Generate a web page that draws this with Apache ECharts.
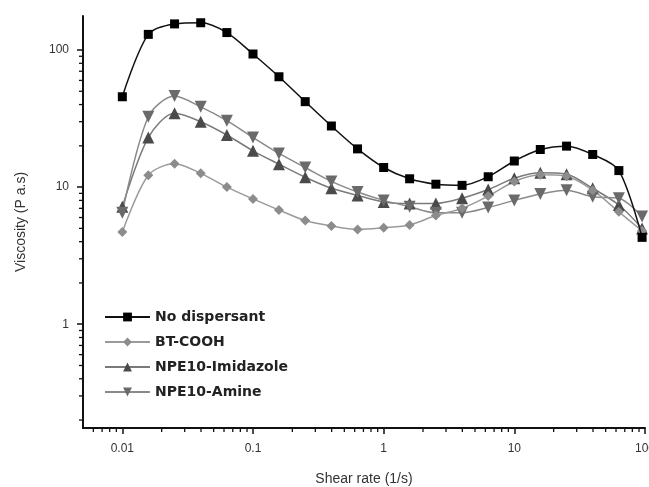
<!DOCTYPE html>
<html><head><meta charset="utf-8">
<script src="https://cdn.jsdelivr.net/npm/echarts@6/dist/echarts.min.js"></script>
<style>html,body{margin:0;padding:0;background:#fff}#c{width:649px;height:487px}</style>
</head><body><div id="c"></div>
<script>
// ---- data ----
const shearRate = [0.01, 0.0158, 0.0251, 0.0398, 0.0631, 0.1, 0.158, 0.251, 0.398, 0.631, 1, 1.58, 2.51, 3.98, 6.31, 10, 15.8, 25.1, 39.8, 63.1, 95];
const noDispersant = [45.6, 130, 155, 158, 134, 93.5, 63.8, 42, 27.9, 19, 13.9, 11.5, 10.5, 10.3, 11.9, 15.5, 18.8, 19.9, 17.3, 13.2, 4.3];
const btCooh = [4.7, 12.2, 14.8, 12.6, 10.0, 8.2, 6.8, 5.7, 5.2, 4.9, 5.05, 5.3, 6.2, 7.0, 8.6, 11.0, 12.3, 12.0, 9.5, 6.6, 4.8];
const npeImidazole = [7.2, 23, 34.5, 30, 24, 18.4, 14.7, 11.8, 9.8, 8.7, 7.8, 7.6, 7.6, 8.3, 9.6, 11.6, 12.7, 12.4, 9.8, 7.4, 5.0];
const npeAmine = [6.5, 32.6, 46.2, 38.5, 30.5, 23, 17.6, 13.9, 11, 9.2, 8.0, 7.2, 6.5, 6.5, 7.1, 8.0, 8.9, 9.5, 8.5, 8.3, 6.1];
const seriesNames = ['No dispersant', 'BT-COOH', 'NPE10-Imidazole', 'NPE10-Amine'];
const xMinorTicks = [0.006, 0.007, 0.008, 0.009, 0.02, 0.03, 0.04, 0.05, 0.06, 0.07, 0.08, 0.09, 0.2, 0.3, 0.4, 0.5, 0.6, 0.7, 0.8, 0.9, 2, 3, 4, 5, 6, 7, 8, 9, 20, 30, 40, 50, 60, 70, 80, 90];
const yMinorTicks = [0.2, 0.3, 0.4, 0.5, 0.6, 0.7, 0.8, 0.9, 2, 3, 4, 5, 6, 7, 8, 9, 20, 30, 40, 50, 60, 70, 80, 90];
const xMin = 0.005, xMax = 100, yMin = 0.175, yMax = 177;

const pair = arr => arr.map((v, i) => [shearRate[i], v]);
const font = 'Liberation Sans, Arial, sans-serif';

function tickSeries(values, isX) {
  return {
    type: 'custom', silent: true, clip: false, z: 5,
    data: values.map(v => isX ? [v, yMin] : [xMin, v]),
    renderItem: function (params, api) {
      const p = api.coord([api.value(0), api.value(1)]);
      const shape = isX ? {x1: p[0], y1: p[1], x2: p[0], y2: p[1] + 4} : {x1: p[0], y1: p[1], x2: p[0] - 4, y2: p[1]};
      return {type: 'line', shape: shape, style: {stroke: '#111', lineWidth: 1.3}};
    }
  };
}

const chart = echarts.init(document.getElementById('c'));
chart.setOption({
  animation: false,
  backgroundColor: '#fff',
  grid: {left: 83, right: 4, top: 16, bottom: 59, containLabel: false, outerBoundsMode: 'none'},
  legend: {
    data: seriesNames, orient: 'vertical', left: 99, top: 305,
    itemWidth: 45, itemHeight: 11, itemGap: 11,
    textStyle: {fontFamily: 'DejaVu Sans', fontWeight: 'bold', fontSize: 14, color: '#222'}
  },
  xAxis: {
    type: 'log', logBase: 10, min: xMin, max: xMax,
    name: 'Shear rate (1/s)', nameLocation: 'middle', nameGap: 44,
    nameTextStyle: {fontFamily: font, fontSize: 14, color: '#333'},
    axisLine: {lineStyle: {color: '#111', width: 2}},
    axisTick: {inside: false, length: 6, lineStyle: {color: '#111', width: 1.5}},
    axisLabel: {fontFamily: font, fontSize: 12, color: '#333', margin: 15, showMinLabel: false},
    splitLine: {show: false}
  },
  yAxis: {
    type: 'log', logBase: 10, min: yMin, max: yMax,
    name: 'Viscosity (P a.s)', nameLocation: 'middle', nameGap: 55,
    nameTextStyle: {fontFamily: font, fontSize: 14, color: '#333'},
    axisLine: {lineStyle: {color: '#111', width: 2}},
    axisTick: {inside: false, length: 6, lineStyle: {color: '#111', width: 1.5}},
    axisLabel: {fontFamily: font, fontSize: 12, color: '#333', margin: 14, showMinLabel: false, showMaxLabel: false},
    splitLine: {show: false}
  },
  series: [
    tickSeries(xMinorTicks, true),
    tickSeries(yMinorTicks, false),
    {name: seriesNames[2], type: 'line', data: pair(npeImidazole), smooth: 0.3, z: 3,
     symbol: 'triangle', symbolSize: 12, itemStyle: {color: '#4a4a4a'}, lineStyle: {color: '#7a7a7a', width: 1.5}},
    {name: seriesNames[3], type: 'line', data: pair(npeAmine), smooth: 0.3, z: 3,
     symbol: 'triangle', symbolRotate: 180, symbolSize: 12, itemStyle: {color: '#6a6a6a'}, lineStyle: {color: '#8a8a8a', width: 1.5}},
    {name: seriesNames[1], type: 'line', data: pair(btCooh), smooth: 0.3, z: 3,
     symbol: 'diamond', symbolSize: 10, itemStyle: {color: '#8c8c8c'}, lineStyle: {color: '#9a9a9a', width: 1.5}},
    {name: seriesNames[0], type: 'line', data: pair(noDispersant), smooth: 0.3, z: 4,
     symbol: 'rect', symbolSize: 9, itemStyle: {color: '#000'}, lineStyle: {color: '#111', width: 1.5}}
  ]
});
</script></body></html>
